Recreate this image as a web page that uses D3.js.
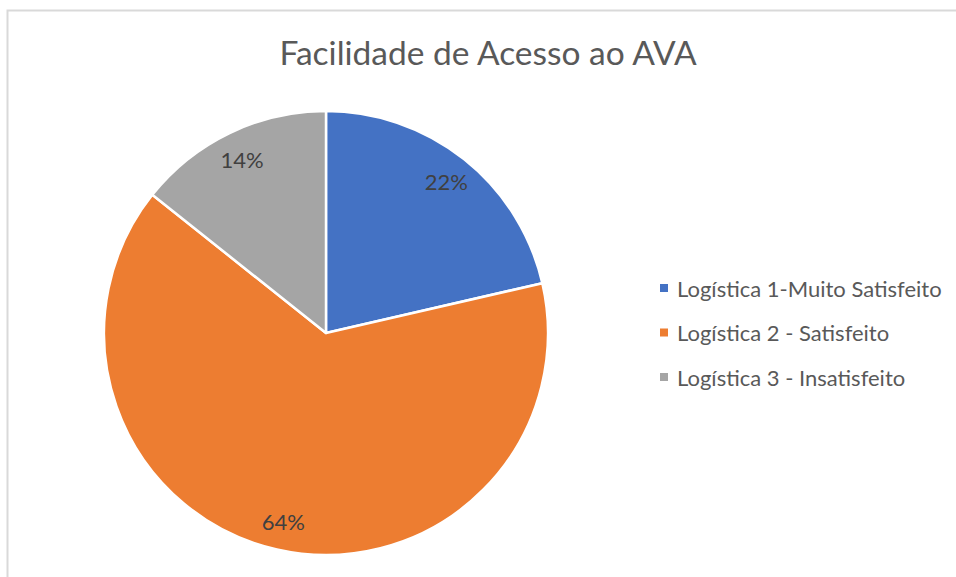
<!DOCTYPE html>
<html>
<head>
<meta charset="utf-8">
<script src="https://cdn.jsdelivr.net/npm/d3@7"></script>
<style>
    html, body { margin: 0; padding: 0; background: #fff; }
    svg { display: block; font-family: Lato, "Open Sans", sans-serif; }
</style>
</head>
<body>
<div id="chart"></div>
<script>
// Data
const categories = ["Logística 1-Muito Satisfeito", "Logística 2 - Satisfeito", "Logística 3 - Insatisfeito"];
const values = [21.4, 64.3, 14.3];
const valueLabels = ["22%", "64%", "14%"];
const colors = ["#4472C4", "#ED7D31", "#A5A5A5"];
const title = "Facilidade de Acesso ao AVA";

const width = 956, height = 577;
const cx = 326, cy = 333, radius = 222;

const svg = d3.select('#chart')
    .append('svg')
    .attr('width', width)
    .attr('height', height)
    .attr('viewBox', [0, 0, width, height]);

// Chart area border (right and bottom run off the picture)
svg.append('rect')
    .attr('x', 7.5)
    .attr('y', 10.5)
    .attr('width', 1000)
    .attr('height', 1000)
    .attr('fill', 'none')
    .attr('stroke', '#d9d9d9')
    .attr('stroke-width', 2);

// Title
svg.append('text')
    .attr('x', 488)
    .attr('y', 65)
    .attr('text-anchor', 'middle')
    .attr('fill', '#595959')
    .style('font-size', '33.5px')
    .text(title);

const data = categories.map((c, i) => ({ name: c, value: values[i], label: valueLabels[i], color: colors[i] }));

const pie = d3.pie()
    .sort(null)
    .value(d => d.value);

const arc = d3.arc()
    .innerRadius(0)
    .outerRadius(radius);

const labelArc = d3.arc()
    .innerRadius(radius * 0.87)
    .outerRadius(radius * 0.87);

const g = svg.append('g')
    .attr('transform', `translate(${cx},${cy})`);

const arcs = pie(data);

g.selectAll('.slice')
    .data(arcs)
    .join('path')
    .attr('class', 'slice')
    .attr('d', arc)
    .attr('fill', d => d.data.color)
    .attr('stroke', '#fff')
    .attr('stroke-width', 2.5)
    .attr('stroke-linejoin', 'round');

g.selectAll('.value-label')
    .data(arcs)
    .join('text')
    .attr('class', 'value-label')
    .attr('transform', d => `translate(${labelArc.centroid(d)})`)
    .attr('text-anchor', 'middle')
    .attr('dominant-baseline', 'central')
    .attr('fill', '#404040')
    .style('font-size', '22px')
    .text(d => d.data.label);

// Legend
const legendY = d3.scalePoint()
    .domain(categories)
    .range([288, 377]);

const legend = svg.selectAll('.legend-item')
    .data(data)
    .join('g')
    .attr('class', 'legend-item')
    .attr('transform', d => `translate(660,${legendY(d.name)})`);

legend.append('rect')
    .attr('x', 0)
    .attr('y', -4)
    .attr('width', 8)
    .attr('height', 8)
    .attr('fill', d => d.color);

legend.append('text')
    .attr('x', 17)
    .attr('y', 0)
    .attr('dominant-baseline', 'central')
    .attr('fill', '#595959')
    .style('font-size', '22px')
    .text(d => d.name);
</script>
</body>
</html>
